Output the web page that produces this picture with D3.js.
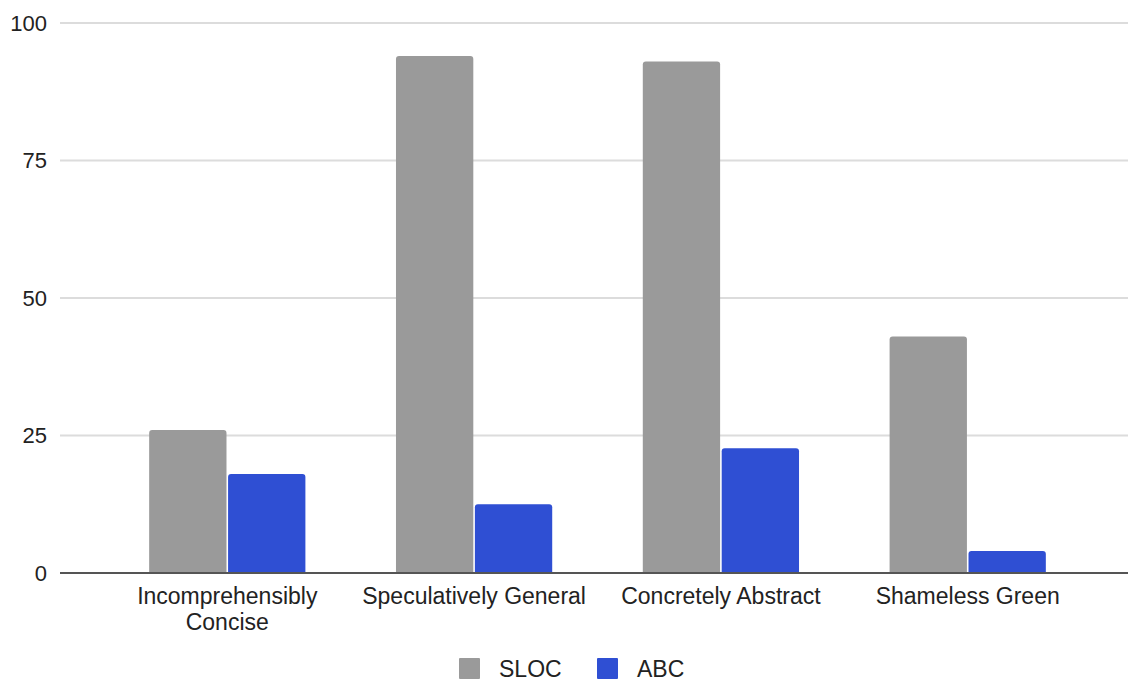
<!DOCTYPE html>
<html>
    <head>
        <meta charset="utf-8" />
        <script src="https://d3js.org/d3.v7.min.js"></script>
        <style>
            body { margin: 0px; background: #fff; }
            text { font-family: "Liberation Sans", Arial, sans-serif; fill: #222; }
        </style>
    </head>
    <body>
        <script type="text/javascript">
            // chart data
            var categories = ["Incomprehensibly Concise", "Speculatively General", "Concretely Abstract", "Shameless Green"];
            var seriesNames = ["SLOC", "ABC"];
            var slocValues = [26, 94, 93, 43];
            var abcValues = [18, 12.5, 22.7, 4];
            var yTicks = [0, 25, 50, 75, 100];
            var colors = ["#9a9a9a", "#2f4fd3"];

            var width = 1128, height = 682;

            var rows = categories.map((c, i) => ({ name: c, SLOC: slocValues[i], ABC: abcValues[i] }));

            var svg = d3.select("body").append("svg")
                .attr("width", width)
                .attr("height", height);

            var y = d3.scaleLinear()
                .domain([0, 100])
                .range([573, 23]);

            var x = d3.scaleBand()
                .domain(categories)
                .range([104, 1091])
                .paddingInner(0.367)
                .paddingOuter(0.183);

            var x1 = d3.scaleBand()
                .domain(seriesNames)
                .range([0, x.bandwidth()])
                .paddingInner(0.02);

            // gridlines
            svg.append("g")
                .selectAll("line")
                .data(yTicks.filter(t => t > 0))
                .enter()
                .append("line")
                    .attr("x1", 60)
                    .attr("x2", width)
                    .attr("y1", d => y(d))
                    .attr("y2", d => y(d))
                    .style("stroke", "#dcdcdc")
                    .style("stroke-width", 2);

            // y tick labels
            svg.append("g")
                .selectAll("text")
                .data(yTicks)
                .enter()
                .append("text")
                    .attr("x", 47)
                    .attr("y", d => y(d))
                    .attr("dy", "0.35em")
                    .attr("text-anchor", "end")
                    .style("font-size", "22px")
                    .text(d => d);

            // bars
            var groups = svg.append("g")
                .selectAll("g")
                .data(rows)
                .enter()
                .append("g")
                    .attr("transform", d => "translate(" + x(d.name) + ",0)");

            groups.selectAll("path")
                .data(d => seriesNames.map(s => ({ key: s, value: d[s] })))
                .enter()
                .append("path")
                    .attr("d", d => {
                        var x0 = x1(d.key), w = x1.bandwidth();
                        var top = y(d.value), bottom = y(0), r = 3;
                        return "M" + x0 + "," + bottom +
                            "V" + (top + r) +
                            "Q" + x0 + "," + top + " " + (x0 + r) + "," + top +
                            "H" + (x0 + w - r) +
                            "Q" + (x0 + w) + "," + top + " " + (x0 + w) + "," + (top + r) +
                            "V" + bottom + "Z";
                    })
                    .style("fill", (d, i) => colors[i]);

            // baseline
            svg.append("line")
                .attr("x1", 60)
                .attr("x2", width)
                .attr("y1", y(0))
                .attr("y2", y(0))
                .style("stroke", "#555")
                .style("stroke-width", 2);

            // category labels, two lines for the long one
            var labelLines = {
                "Incomprehensibly Concise": ["Incomprehensibly", "Concise"]
            };
            var labels = svg.append("g")
                .selectAll("text")
                .data(categories)
                .enter()
                .append("text")
                    .attr("x", d => x(d) + x.bandwidth() / 2)
                    .attr("y", 604)
                    .attr("text-anchor", "middle")
                    .style("font-size", "23px");
            labels.selectAll("tspan")
                .data(d => labelLines[d] || [d])
                .enter()
                .append("tspan")
                    .attr("x", function() { return d3.select(this.parentNode).attr("x"); })
                    .attr("dy", (d, i) => i === 0 ? 0 : 26)
                    .text(d => d);

            // legend
            var legendX = [459, 597];
            var legend = svg.append("g")
                .selectAll("g")
                .data(seriesNames)
                .enter()
                .append("g")
                    .attr("transform", (d, i) => "translate(" + legendX[i] + ",658)");
            legend.append("rect")
                .attr("width", 21)
                .attr("height", 21)
                .attr("rx", 1)
                .style("fill", (d, i) => colors[i]);
            legend.append("text")
                .attr("x", 40)
                .attr("y", 19)
                .style("font-size", "23px")
                .text(d => d);
        </script>
    </body>
</html>
